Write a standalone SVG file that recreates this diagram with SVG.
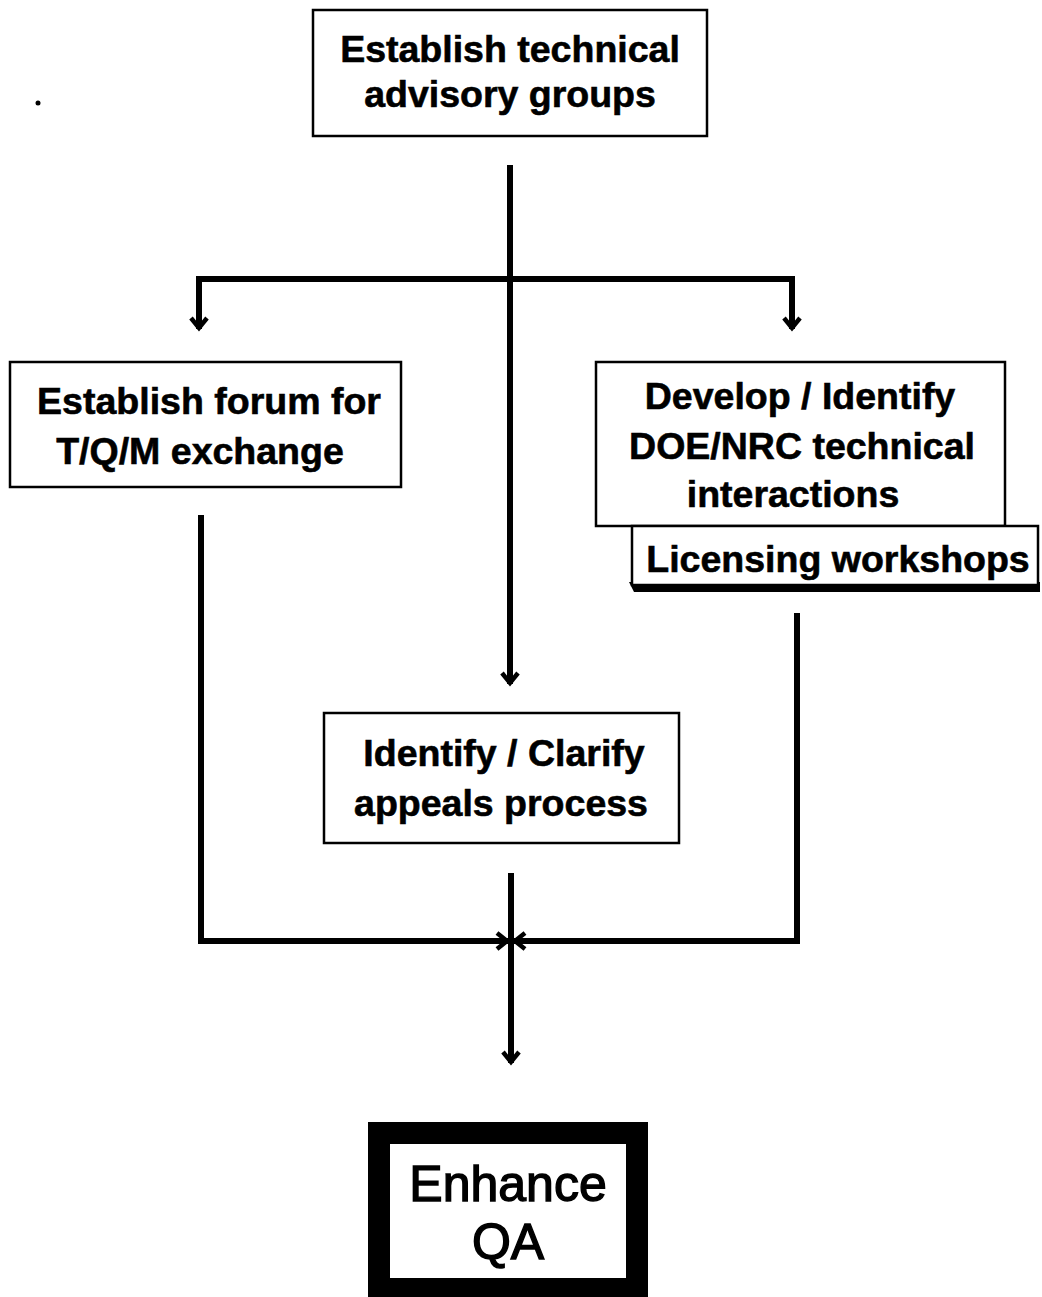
<svg xmlns="http://www.w3.org/2000/svg" width="1042" height="1297" viewBox="0 0 1042 1297">
<defs>
<style>
.box{fill:#fff;stroke:#000;stroke-width:2.5}
.t{font-family:"Liberation Sans",Arial,sans-serif;font-weight:bold;font-size:37.5px;fill:#000;stroke:#000;stroke-width:0.6;text-anchor:middle}
.big{font-family:"Liberation Sans",Arial,sans-serif;font-size:50px;fill:#000;stroke:#000;stroke-width:1.4;text-anchor:middle}
.ln{fill:none;stroke:#000;stroke-width:6;stroke-linejoin:miter}
</style>
<marker id="ah" markerUnits="userSpaceOnUse" markerWidth="30" markerHeight="30" viewBox="-15 -15 30 30" refX="0" refY="0" orient="auto">
<path d="M-11,-8 L-1,0 L-11,8" fill="none" stroke="#000" stroke-width="4.5" stroke-linejoin="miter"/>
</marker>
</defs>
<rect width="1042" height="1297" fill="#fff"/>
<circle cx="38" cy="103" r="2.5" fill="#000"/>

<g id="connectors">
<path class="ln" d="M510,165 L510,684" marker-end="url(#ah)"/>
<path class="ln" d="M510,279 L199,279 L199,329" marker-end="url(#ah)"/>
<path class="ln" d="M510,279 L792,279 L792,329" marker-end="url(#ah)"/>
<path class="ln" d="M201,515 L201,941 L508,941" marker-end="url(#ah)"/>
<path class="ln" d="M797,613 L797,941 L514,941" marker-end="url(#ah)"/>
<path class="ln" d="M511,873 L511,1063" marker-end="url(#ah)"/>
</g>

<g id="n1">
<rect class="box" x="313" y="10" width="394" height="126"/>
<text class="t" x="510" y="62">Establish technical</text>
<text class="t" x="510" y="107">advisory groups</text>
</g>

<g id="n2">
<rect class="box" x="10" y="362" width="391" height="125"/>
<text class="t" x="209" y="414">Establish forum for</text>
<text class="t" x="200" y="464">T/Q/M exchange</text>
</g>

<g id="n3">
<rect class="box" x="596" y="362" width="409" height="164"/>
<text class="t" x="800" y="409">Develop / Identify</text>
<text class="t" x="802" y="459">DOE/NRC technical</text>
<text class="t" x="793" y="507">interactions</text>
</g>

<g id="n4">
<polygon points="629,582 1040,582 1040,592 634,592" fill="#000"/>
<rect class="box" x="632" y="526" width="406" height="59"/>
<text class="t" x="838" y="572">Licensing workshops</text>
</g>

<g id="n5">
<rect class="box" x="324" y="713" width="355" height="130"/>
<text class="t" x="504" y="766">Identify / Clarify</text>
<text class="t" x="501" y="816">appeals process</text>
</g>

<g id="n6">
<rect x="379" y="1133" width="258" height="156" fill="#fff" stroke="#000" stroke-width="22"/>
<text class="big" x="508" y="1201">Enhance</text>
<text class="big" x="508" y="1259">QA</text>
</g>
</svg>
